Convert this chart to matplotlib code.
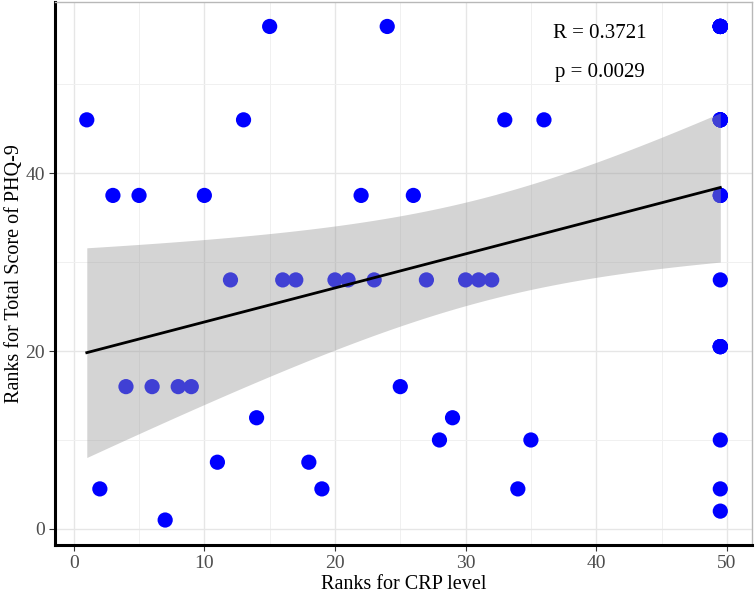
"""Rank correlation scatter: CRP level vs PHQ-9 total score, with lm fit and confidence band."""

import matplotlib
matplotlib.use("Agg")
import matplotlib.pyplot as plt
import numpy as np

plt.rcParams["font.family"] = ["Liberation Serif", "DejaVu Serif"]

# Ranks for CRP level (26 ties at 49.5)
crp_rank = [
    1, 2, 3, 4, 5, 6, 7, 8, 9, 10, 11, 12, 13, 14, 15, 16, 17, 18,
    19, 20, 21, 22, 23, 24, 25, 26, 27, 28, 29, 30, 31, 32, 33, 34, 35, 36,
    49.5, 49.5, 49.5, 49.5, 49.5, 49.5, 49.5, 49.5, 49.5, 49.5, 49.5, 49.5, 49.5,
    49.5, 49.5, 49.5, 49.5, 49.5, 49.5, 49.5, 49.5, 49.5, 49.5, 49.5, 49.5, 49.5,
]
# Ranks for total score of PHQ-9
phq_rank = [
    46, 4.5, 37.5, 16, 37.5, 16, 1, 16, 16, 37.5, 7.5, 28, 46, 12.5, 56.5, 28, 28, 7.5,
    4.5, 28, 28, 37.5, 28, 56.5, 16, 37.5, 28, 10, 12.5, 28, 28, 28, 46, 4.5, 10, 46,
    2, 4.5, 10, 20.5, 20.5, 20.5, 20.5, 28, 37.5, 37.5, 37.5, 46, 46, 46, 46, 46,
    56.5, 56.5, 56.5, 56.5, 56.5, 56.5, 56.5, 56.5, 56.5, 56.5,
]
r_text = "R = 0.3721"
p_text = "p = 0.0029"

x = np.array(crp_rank, dtype=float)
y = np.array(phq_rank, dtype=float)

# Linear fit; band width multiplier
n = len(x)
slope, intercept = np.polyfit(x, y, 1)
resid = y - (slope * x + intercept)
s = np.sqrt(np.sum(resid ** 2) / (n - 2))
sxx = np.sum((x - x.mean()) ** 2)
band_mult = 2.73
xs = np.linspace(x.min(), x.max(), 80)
fit = slope * xs + intercept
se = s * np.sqrt(1.0 / n + (xs - x.mean()) ** 2 / sxx)

fig = plt.figure(figsize=(7.55, 5.94), dpi=100)
ax = fig.add_axes([0.073, 0.083, 0.923, 0.914])

ax.scatter(x, y, s=120, color="#0000ff", edgecolors="none", zorder=2)
ax.fill_between(xs, fit - band_mult * se, fit + band_mult * se,
                color="#999999", alpha=0.42, linewidth=0, zorder=3)
ax.plot(xs, fit, color="black", linewidth=2.0, zorder=4)

ax.text(40.3, 55.7, r_text, ha="center", va="center", fontsize=15)
ax.text(40.3, 51.3, p_text, ha="center", va="center", fontsize=15)

x_pad = 0.05 * (x.max() - x.min())
y_pad = 0.05 * (y.max() - y.min())
ax.set_xlim(x.min() - x_pad, x.max() + x_pad)
ax.set_ylim(y.min() - y_pad, y.max() + y_pad)

ax.set_xticks([0, 10, 20, 30, 40, 50])
ax.set_yticks([0, 20, 40])
ax.set_xticks([5, 15, 25, 35, 45], minor=True)
ax.set_yticks([10, 30, 50], minor=True)
ax.grid(True, which="major", color="#e6e6e6", linewidth=1.0, zorder=0)
ax.grid(True, which="minor", color="#f0f0f0", linewidth=0.7, zorder=0)
ax.set_axisbelow(True)

ax.tick_params(which="major", length=4, width=0.8, color="#333333",
               labelcolor="#4d4d4d", labelsize=14)
ax.tick_params(which="minor", length=0)

ax.set_xlabel("Ranks for CRP level", fontsize=14.5, labelpad=2)
ax.set_ylabel("Ranks for Total Score of PHQ-9", fontsize=14.5, labelpad=1)

for side in ("left", "bottom"):
    ax.spines[side].set_color("black")
    ax.spines[side].set_linewidth(2.2)
for side in ("top", "right"):
    ax.spines[side].set_color("#b8b8b8")
    ax.spines[side].set_linewidth(1.0)

fig.savefig("out.png", dpi=100)
